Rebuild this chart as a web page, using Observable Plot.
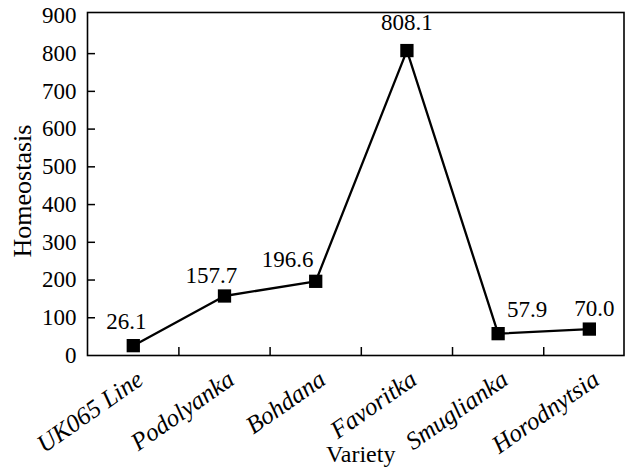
<!DOCTYPE html>
<html><head><meta charset="utf-8">
<script src="https://cdn.jsdelivr.net/npm/d3@7"></script>
<script src="https://cdn.jsdelivr.net/npm/@observablehq/plot@0.6"></script>
<style>
body{margin:0;background:#fff}
#chart svg{display:block}
#chart svg, #chart svg text{font-family:'Liberation Serif', 'Times New Roman', serif !important;}
</style>
</head><body><div id="chart"></div>
<script>
// Data
const varieties = ["UK065 Line", "Podolyanka", "Bohdana", "Favoritka", "Smuglianka", "Horodnytsia"];
const homeostasis = [26.1, 157.7, 196.6, 808.1, 57.9, 70.0];
const yTicks = [0, 100, 200, 300, 400, 500, 600, 700, 800, 900];
const xTitle = "Variety";
const yTitle = "Homeostasis";

const data = varieties.map((v, i) => ({idx: i, variety: v, value: homeostasis[i]}));
const xBoundaries = varieties.slice(1).map((v, i) => i + 0.5);
// label nudges (styling, px)
const labelNudge = [[-7, -24], [-13, -20.5], [-28, -22], [0, -28], [29, -24], [5, -20]];

const chart = Plot.plot({
  width: 625, height: 470,
  marginLeft: 87, marginRight: 1.5, marginTop: 12, marginBottom: 115,
  style: {fontSize: "23px", background: "white", color: "black", overflow: "visible"},
  x: {domain: [-0.502, 5.38], axis: null, label: null},
  y: {domain: [0, 909], axis: null, label: null},
  marks: [
    Plot.frame({stroke: "black", strokeWidth: 1.6}),
    Plot.axisY({ticks: yTicks.filter(t => t > 0 && t < 900), tickSize: -8, strokeWidth: 1.5, tickFormat: () => "", label: null}),
    Plot.axisY({ticks: yTicks, tickSize: 0, tickPadding: 11, fontSize: 23, fill: "black", label: null}),
    Plot.axisX({ticks: xBoundaries, tickSize: -8, strokeWidth: 1.5, tickFormat: () => "", label: null}),
    Plot.text(data, {x: "idx", frameAnchor: "bottom", text: "variety", rotate: -35, textAnchor: "end", lineAnchor: "middle", dy: 21, dx: 7, fontStyle: "italic", fontSize: 25, fill: "black"}),
    Plot.line(data, {x: "idx", y: "value", stroke: "black", strokeWidth: 2.3}),
    Plot.dot(data, {x: "idx", y: "value", symbol: "square", fill: "black", r: 7.5}),
    ...data.map((d, i) => Plot.text([d], {x: "idx", y: "value", text: d => d.value.toFixed(1), dx: labelNudge[i][0], dy: labelNudge[i][1], fontSize: 23, fill: "black"})),
    Plot.text([yTitle], {frameAnchor: "left", textAnchor: "middle", lineAnchor: "middle", rotate: -90, dx: -65, dy: 7, fontSize: 26, fill: "black"}),
    Plot.text([xTitle], {frameAnchor: "bottom", textAnchor: "middle", lineAnchor: "middle", dy: 99, dx: 5, fontSize: 24, fill: "black"})
  ]
});
document.getElementById("chart").appendChild(chart);
</script>
</body></html>
